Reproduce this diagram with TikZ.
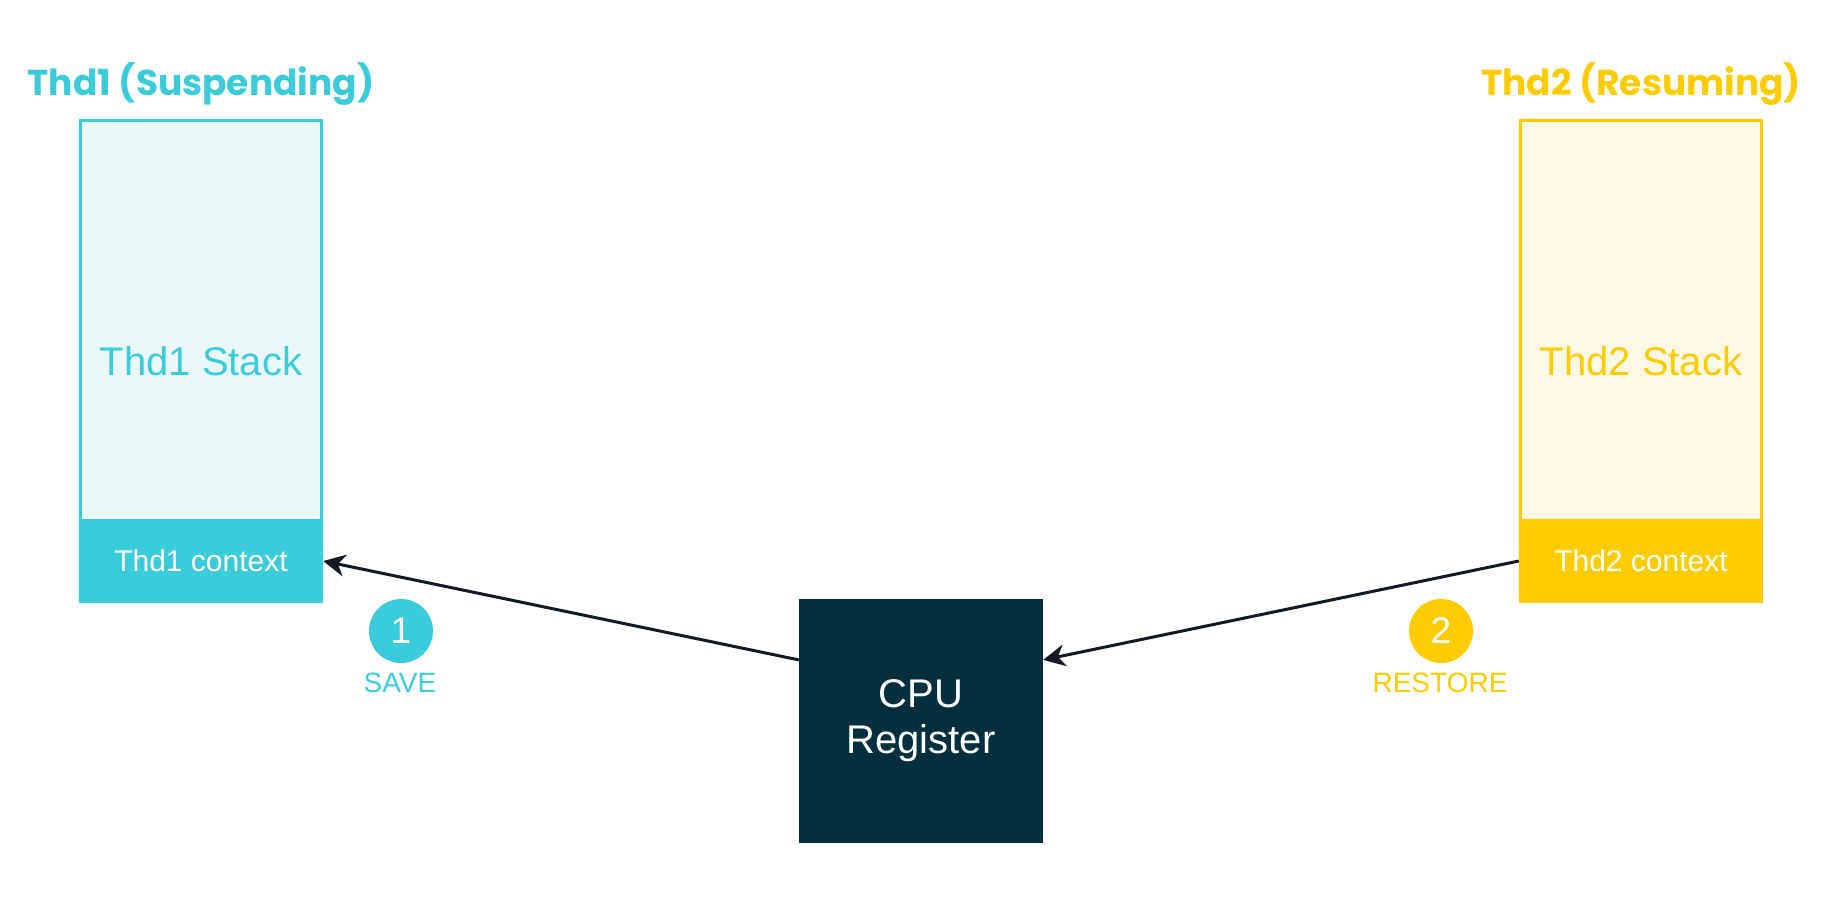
\documentclass[tikz,border=0pt]{standalone}
\usepackage{fontspec}
\setmainfont{Liberation Sans}
\newfontfamily\titlefont{Poppins}
\usetikzlibrary{calc,arrows.meta}
\definecolor{cyanc}{HTML}{3BCCDB}
\definecolor{cyanl}{HTML}{EAF8F9}
\definecolor{yelc}{HTML}{FFCC00}
\definecolor{yell}{HTML}{FFF8E5}
\definecolor{darkc}{HTML}{04303E}
\definecolor{arrc}{HTML}{131A22}
\tikzset{
  stackbox/.style={draw=#1, line width=3pt, minimum width=241pt, minimum height=481pt, inner sep=0pt, font=\fontsize{40}{46}\selectfont},
  ctxbox/.style={fill=#1, minimum width=244pt, minimum height=84pt, inner sep=0pt, text=white, font=\fontsize{30}{36}\selectfont},
  titletext/.style={anchor=base, inner sep=0pt, font=\titlefont\bfseries\fontsize{36}{42}\selectfont},
  numcirc/.style={circle, fill=#1, minimum size=64pt, inner sep=0pt, text=white, font=\fontsize{37}{40}\selectfont},
  steplabel/.style={inner sep=0pt, font=\fontsize{28}{32}\selectfont},
  arr/.style={draw=arrc, line width=3pt, -{Stealth[length=22pt,width=22pt,inset=7pt]}},
}
\begin{document}
\begin{tikzpicture}[x=1pt,y=-1pt]
\useasboundingbox (0,0) rectangle (1840,920);
% left thread
\node[titletext, text=cyanc] (t1) at (201,96) {Thd1 (Suspending)};
\node[stackbox=cyanc, fill=cyanl, text=cyanc] (s1) at (201,361) {Thd1 Stack};
\node[ctxbox=cyanc] (c1) at (201,561) {Thd1 context};
% right thread
\node[titletext, text=yelc] (t2) at (1641,96) {Thd2 (Resuming)};
\node[stackbox=yelc, fill=yell, text=yelc] (s2) at (1641,361) {Thd2 Stack};
\node[ctxbox=yelc] (c2) at (1641,561) {Thd2 context};
% cpu
\node[fill=darkc, minimum width=244pt, minimum height=244pt, inner sep=0pt, text=white, align=center, font=\fontsize{40}{46}\selectfont] (cpu) at (921,721) {CPU\\Register};
% arrows
\draw[arr] ($(cpu.north west)!0.25!(cpu.south west)$) -- (c1.east);
\draw[arr] (c2.west) -- ($(cpu.north east)!0.25!(cpu.south east)$);
% step labels
\node[numcirc=cyanc] (n1) at (401,631) {1};
\node[steplabel, text=cyanc] (l1) at (400,683) {SAVE};
\node[numcirc=yelc] (n2) at (1441,631) {2};
\node[steplabel, text=yelc] (l2) at (1440,683) {RESTORE};
\end{tikzpicture}
\end{document}
